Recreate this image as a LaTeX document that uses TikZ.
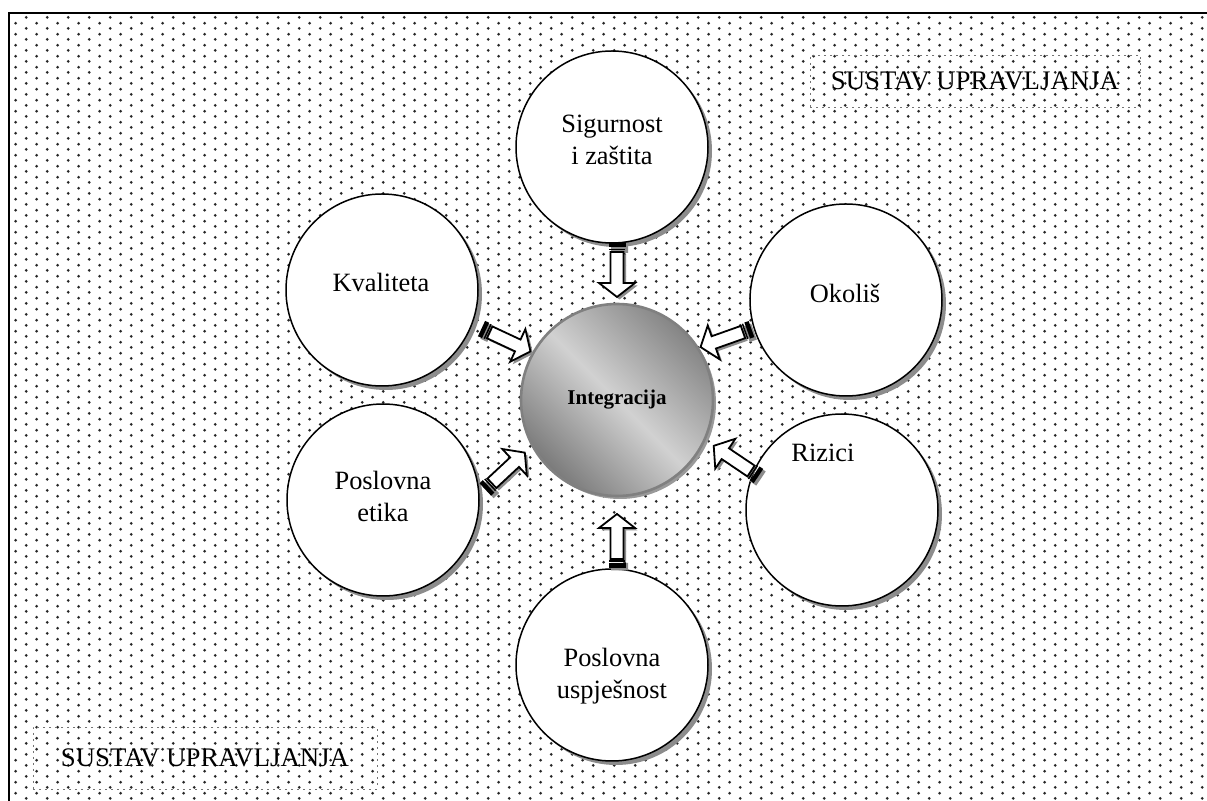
\documentclass[tikz,border=0pt]{standalone}
\usepackage{fontspec}
\setmainfont{Liberation Serif}
\usetikzlibrary{calc,patterns,shadows}

\pgfdeclarepatternformonly{sdots}{\pgfqpoint{0pt}{0pt}}{\pgfqpoint{10.7pt}{5.35pt}}{\pgfqpoint{10.7pt}{5.35pt}}{
  \pgfpathcircle{\pgfqpoint{2.675pt}{1.34pt}}{0.75pt}
  \pgfpathcircle{\pgfqpoint{8.025pt}{4.01pt}}{0.75pt}
  \pgfusepath{fill}
}

\begin{document}
\begin{tikzpicture}[x=0.5pt, y=-0.5pt,
  bubble/.style={circle, draw, line width=0.75pt, fill=white, minimum size=96pt, inner sep=0pt,
    drop shadow={shadow xshift=2pt, shadow yshift=-2pt, opacity=1, fill=black!45}},
  hub/.style={circle, draw=black!50, line width=1.3pt, minimum size=96pt, inner sep=0pt,
    top color=black!48, bottom color=black!52, middle color=black!18, shading angle=-45,
    font=\fontsize{10.5}{12}\selectfont\bfseries,
    drop shadow={shadow xshift=1.5pt, shadow yshift=-1.5pt, opacity=1, fill=black!40}},
  lbl/.style={align=center, font=\fontsize{13.2}{16}\selectfont},
  namebox/.style={draw=black!55, dash pattern=on 1pt off 2pt, line width=0.3pt,
    font=\fontsize{13.4}{16}\selectfont, inner sep=0pt},
  arrowbody/.pic={
    \fill (-27,-8.5) rectangle (-22.5,8.5);
    \fill (-21,-8) rectangle (-19.5,8);
    \draw[fill=white, line width=0.9pt, line join=miter]
      (-18,-6.5) -- (13,-6.5) -- (13,-18) -- (27,0) -- (13,18) -- (13,6.5) -- (-18,6.5) -- cycle;
  },
  arrowshadow/.pic={
    \fill[black!45] (-27,-8.5) rectangle (-19.5,8.5)
      (-18,-6.5) -- (13,-6.5) -- (13,-18) -- (27,0) -- (13,18) -- (13,6.5) -- (-18,6.5) -- cycle;
  }]
\newcommand{\blockarrow}[2]{
  \pic[shift={(2.5,2.5)}, rotate=#1] at #2 {arrowshadow};
  \pic[rotate=#1] at #2 {arrowbody};
}
\useasboundingbox (0,0) rectangle (1207,801);
\fill[white] (0,0) rectangle (1207,801);
\fill[pattern=sdots, pattern color=black!85] (9,13) rectangle (1207,801);
\draw[line width=1pt] (9,801) -- (9,13) -- (1207,13);

\node[namebox, minimum width=165pt, minimum height=26pt] (systop) at (975,81) {SUSTAV UPRAVLJANJA\hspace{5pt}};
\node[namebox, minimum width=172pt, minimum height=31pt] (sysbot) at (205,758) {SUSTAV UPRAVLJANJA};

\node[hub] (integ) at (617,400) {Integracija};
\node[bubble] (sig) at (612,147) {};
\node[bubble] (kval) at (382,290) {};
\node[bubble] (okolis) at (846,300) {};
\node[bubble] (etika) at (383,500) {};
\node[bubble] (rizici) at (842,510) {};
\node[bubble] (uspjeh) at (612,665) {};

\node[lbl] (sigtxt) at ($(sig)+(0,-7)$) {Sigurnost\\i zaštita};
\node[lbl] (kvaltxt) at ($(kval)+(-1,-8)$) {Kvaliteta};
\node[lbl] (okolistxt) at ($(okolis)+(-1,-7)$) {Okoliš};
\node[lbl] (etikatxt) at ($(etika)+(0,-4)$) {Poslovna\\etika};
\node[lbl] (rizicitxt) at ($(rizici)+(-19,-57)$) {Rizici};
\node[lbl] (uspjehtxt) at ($(uspjeh)+(0,11)$) {Poslovna\\uspješnost};

\blockarrow{-90}{([shift={(90:65pt)}]integ.center)}
\blockarrow{-25}{([shift={(151.6:63.1pt)}]integ.center)}
\blockarrow{-160.5}{([shift={(29.6:62.7pt)}]integ.center)}
\blockarrow{43}{([shift={(212.4:66.3pt)}]integ.center)}
\blockarrow{146}{([shift={(-27.1:66.9pt)}]integ.center)}
\blockarrow{90}{([shift={(-90:70.5pt)}]integ.center)}
\end{tikzpicture}
\end{document}
